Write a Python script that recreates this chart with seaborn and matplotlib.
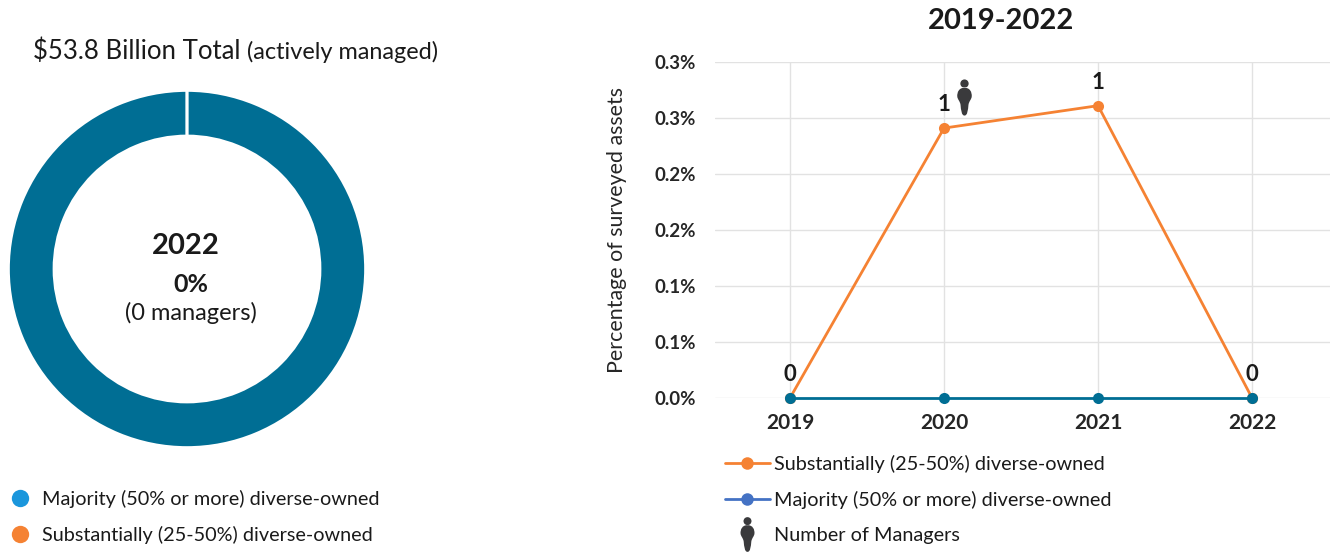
import matplotlib
matplotlib.use('Agg')
import matplotlib.pyplot as plt
from matplotlib.lines import Line2D
from matplotlib.path import Path
from matplotlib.transforms import ScaledTranslation
import pandas as pd
import seaborn as sns

years = [2019, 2020, 2021, 2022]
substantially = [0.0, 0.241, 0.261, 0.0]
majority = [0.0, 0.0, 0.0, 0.0]
manager_counts = [0, 1, 1, 0]
donut_shares = [100, 0, 0]
y_ticks = [0.0, 0.05, 0.10, 0.15, 0.20, 0.25, 0.30]
y_labels = ['0.0%', '0.1%', '0.1%', '0.2%', '0.2%', '0.3%', '0.3%']
substantial_label = 'Substantially (25-50%) diverse-owned'
majority_label = 'Majority (50% or more) diverse-owned'

TEAL = '#006E94'
ORANGE = '#F58233'
W, H = 1338, 555

sns.set_theme(style='whitegrid')
plt.rcParams['font.family'] = ['Lato', 'DejaVu Sans']
plt.rcParams['text.color'] = '#1a1a1a'

fig = plt.figure(figsize=(W / 100, H / 100), dpi=100, facecolor='white')


def px_axes(left, top, right, bottom):
    return fig.add_axes([left / W, 1 - bottom / H, (right - left) / W, (bottom - top) / H])


def px_text(x, y, s, **kw):
    fig.text(x / W, 1 - y / H, s, va='center', **kw)


# person icon for the number of managers
head = Path.circle((0, 0.77), 0.23)
body = Path(
    [(0, 0.54), (0.30, 0.54), (0.42, 0.30), (0.40, 0.05), (0.38, -0.12), (0.26, -0.18),
     (0.22, -0.40), (0.19, -0.70), (0.17, -1.0), (0, -1.0),
     (-0.17, -1.0), (-0.19, -0.70), (-0.22, -0.40), (-0.26, -0.18), (-0.38, -0.12),
     (-0.40, 0.05), (-0.42, 0.30), (-0.30, 0.54), (0, 0.54), (0, 0.54)],
    [Path.MOVETO] + [Path.CURVE4] * 18 + [Path.CLOSEPOLY],
)
person = Path.make_compound_path(head, body)

# donut
ax_pie = px_axes(1, 83, 373, 455)
ax_pie.pie(donut_shares, colors=[TEAL, '#1A96DC', ORANGE], startangle=90, counterclock=False,
           radius=0.96, wedgeprops={'width': 0.245, 'edgecolor': 'white', 'linewidth': 2})
ax_pie.set_xlim(-1, 1)
ax_pie.set_ylim(-1, 1)

px_text(33, 51, '$53.8 Billion Total', fontsize=18.5)
px_text(247, 52, '(actively managed)', fontsize=16.9)
px_text(186, 246, '2022', fontsize=21, fontweight='bold', ha='center')
px_text(191, 284, '0%', fontsize=18, fontweight='bold', ha='center')
px_text(191, 313, '(0 managers)', fontsize=17, ha='center')

# left legend
left_handles = [
    Line2D([], [], ls='none', marker='o', ms=12.5, mew=0, color='#1A96DC'),
    Line2D([], [], ls='none', marker='o', ms=12.5, mew=0, color=ORANGE),
]
fig.legend(left_handles, [majority_label, substantial_label], loc='upper left',
           bbox_to_anchor=(0 / W, 1 - 480 / H), frameon=False, fontsize=14.3,
           handlelength=1.0, handletextpad=0.6, labelspacing=0.9, borderpad=0.0, borderaxespad=0.5)

# line chart
ax = px_axes(715, 62, 1330, 398)
df = pd.DataFrame({
    'year': years * 2,
    'share': substantially + majority,
    'series': [substantial_label] * 4 + [majority_label] * 4,
})
sns.lineplot(data=df, x='year', y='share', hue='series', palette={substantial_label: ORANGE, majority_label: TEAL},
             marker='o', markersize=8, markeredgewidth=0, linewidth=2, legend=False, ax=ax, clip_on=False, zorder=3)
ax.set_xlim(2019 - 0.487, 2022 + 0.506)
ax.set_ylim(0, 0.30)
ax.set_xticks(years)
ax.set_xticklabels([str(y) for y in years], fontsize=15, fontweight='bold')
ax.set_yticks(y_ticks)
ax.set_yticklabels(y_labels, fontsize=13.5, fontweight='bold')
ax.tick_params(axis='x', pad=4.5)
ax.tick_params(axis='y', pad=8)
ax.set_xlabel('')
ax.set_ylabel('Percentage of surveyed assets', fontsize=15.4, labelpad=19.5)
ax.grid(True, color='#E2E2E2', linewidth=1)
ax.set_axisbelow(True)
for name, spine in ax.spines.items():
    spine.set_visible(False)

for year, val, count in zip(years, substantially, manager_counts):
    ax.annotate(str(count), (year, val), xytext=(0, 17), textcoords='offset points', ha='center', va='center',
                fontsize=16, fontweight='bold', zorder=5)

# icon next to the 2020 count
offset = ScaledTranslation(20 / 100, 31 / 100, fig.dpi_scale_trans)
ax.plot([years[1]], [substantially[1]], ls='none', marker=person, ms=26, mew=0, color='#3A3A3C',
        transform=ax.transData + offset, zorder=5)

px_text(1001, 21, '2019-2022', fontsize=21, fontweight='bold', ha='center')

# right legend
right_handles = [
    Line2D([], [], color=ORANGE, lw=2, marker='o', ms=9, mew=0),
    Line2D([], [], color='#4472C4', lw=2, marker='o', ms=9, mew=0),
    Line2D([], [], ls='none', marker=person, ms=25, mew=0, color='#3A3A3C'),
]
fig.legend(right_handles, [substantial_label, majority_label, 'Number of Managers'], loc='upper left',
           bbox_to_anchor=(715 / W, 1 - 445 / H), frameon=False, fontsize=14.3,
           handlelength=2.26, handletextpad=0.2, labelspacing=0.9, borderpad=0.0, borderaxespad=0.5)

fig.savefig('out.png', dpi=100)
